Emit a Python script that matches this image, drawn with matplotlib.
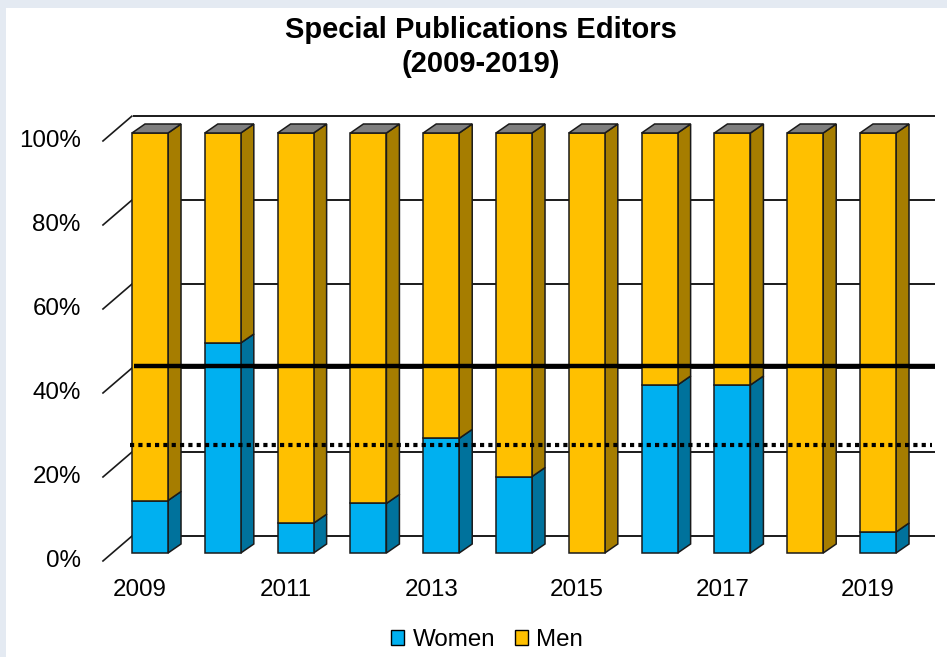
import numpy as np
import matplotlib.pyplot as plt
from matplotlib.patches import Rectangle, Polygon, Patch

plt.rcParams["font.family"] = ["Liberation Sans", "DejaVu Sans"]

years = [2009, 2010, 2011, 2012, 2013, 2014, 2015, 2016, 2017, 2018, 2019]
women = [12.5, 50.0, 7.1, 11.8, 27.3, 18.2, 0.0, 40.0, 40.0, 0.0, 5.0]
men = [100 - w for w in women]
y_ticks = [0, 20, 40, 60, 80, 100]
tick_labels = ["0%", "20%", "40%", "60%", "80%", "100%"]
x_labels = [2009, 2011, 2013, 2015, 2017, 2019]
linea_solida = 44.5
linea_puntos = 25.7

COLOR_WOMEN = "#00B0F0"
COLOR_WOMEN_SIDE = "#00729C"
COLOR_MEN = "#FFC000"
COLOR_MEN_SIDE = "#A67D00"
COLOR_TOP = "#7F7F7F"
COLOR_BORDE = "#E4EAF2"

W, H = 947, 657
fig = plt.figure(figsize=(W / 100, H / 100), dpi=100)

# recuadro gris-azulado a la izquierda y arriba
fig.patches.append(Rectangle((0, 0), 6 / W, 1, transform=fig.transFigure,
                             facecolor=COLOR_BORDE, edgecolor="none"))
fig.patches.append(Rectangle((0, 1 - 8 / H), 1, 8 / H, transform=fig.transFigure,
                             facecolor=COLOR_BORDE, edgecolor="none"))

# ejes: 72.8 px por categoria, 4.2 px por punto porcentual
px_x, px_y = 72.8, 4.2
left_px, right_px, top_px, bot_px = 60, 945, 100, 610
ax = fig.add_axes([left_px / W, 1 - bot_px / H, (right_px - left_px) / W,
                   (bot_px - top_px) / H])
ax.set_xlim((left_px - 150) / px_x, (right_px - 150) / px_x)
ax.set_ylim(-(bot_px - 553) / px_y, 100 + (133 - top_px) / px_y)
ax.axis("off")

ancho = 0.495
dx, dy = 13 / px_x, 9 / px_y          # profundidad de las barras
back_dy = 4.0                        # desplazamiento de la pared de fondo
wall_x0, wall_x1 = -0.23, 10.78

# lineas de la pared de fondo y marcas diagonales
for v, lab in zip(y_ticks, tick_labels):
    ax.plot([wall_x0, wall_x1], [v + back_dy, v + back_dy], color="#1a1a1a",
            lw=1.4, zorder=1, solid_capstyle="butt")
    ax.plot([-0.646, wall_x0 - 0.02], [v - 1.9, v + back_dy], color="#1a1a1a",
            lw=1.2, zorder=1)
    ax.text(-0.95, v - 2.0, lab, ha="right", va="center", fontsize=17.4)

# barras apiladas con efecto 3D
for i, (w, m) in enumerate(zip(women, men)):
    x0, x1 = i - ancho / 2, i + ancho / 2
    segs = [(0, w, COLOR_WOMEN, COLOR_WOMEN_SIDE), (w, m, COLOR_MEN, COLOR_MEN_SIDE)]
    for b, h, c, cs in segs:
        if h <= 0:
            continue
        ax.add_patch(Polygon([(x1, b), (x1 + dx, b + dy), (x1 + dx, b + h + dy),
                              (x1, b + h)], closed=True, facecolor=cs,
                             edgecolor="#1a1a1a", lw=1.1, zorder=3))
        ax.add_patch(Rectangle((x0, b), ancho, h, facecolor=c,
                               edgecolor="#1a1a1a", lw=1.1, zorder=3))
    top = w + m
    ax.add_patch(Polygon([(x0, top), (x1, top), (x1 + dx, top + dy),
                          (x0 + dx, top + dy)], closed=True, facecolor=COLOR_TOP,
                         edgecolor="#1a1a1a", lw=1.1, zorder=3))

# lineas de referencia
ax.plot([-0.22, 10.78], [linea_solida, linea_solida], color="black", lw=3.2,
        zorder=5, solid_capstyle="butt")
ax.plot([-0.275, 10.74], [linea_puntos, linea_puntos], color="black", lw=3.0,
        ls=(0, (1, 1)), dash_capstyle="butt", zorder=5)

# etiquetas del eje x
for yr in x_labels:
    i = years.index(yr)
    ax.text(i - 0.137, -8.8, str(yr), ha="center", va="center", fontsize=17.4)

# titulo
fig.text(481 / W, 1 - 38 / H, "Special Publications Editors", ha="center",
         va="baseline", fontsize=21, fontweight="bold")
fig.text(481 / W, 1 - 72 / H, "(2009-2019)", ha="center", va="baseline",
         fontsize=21, fontweight="bold")

handles = [Patch(facecolor=COLOR_WOMEN, edgecolor="black", label="Women"),
           Patch(facecolor=COLOR_MEN, edgecolor="black", label="Men")]
fig.legend(handles=handles, loc="center", bbox_to_anchor=(487 / W, 1 - 640 / H),
           ncol=2, frameon=False, fontsize=17.4, handlelength=0.55,
           handleheight=0.55, handletextpad=0.35, columnspacing=0.8)

fig.savefig("out.png", dpi=100)
